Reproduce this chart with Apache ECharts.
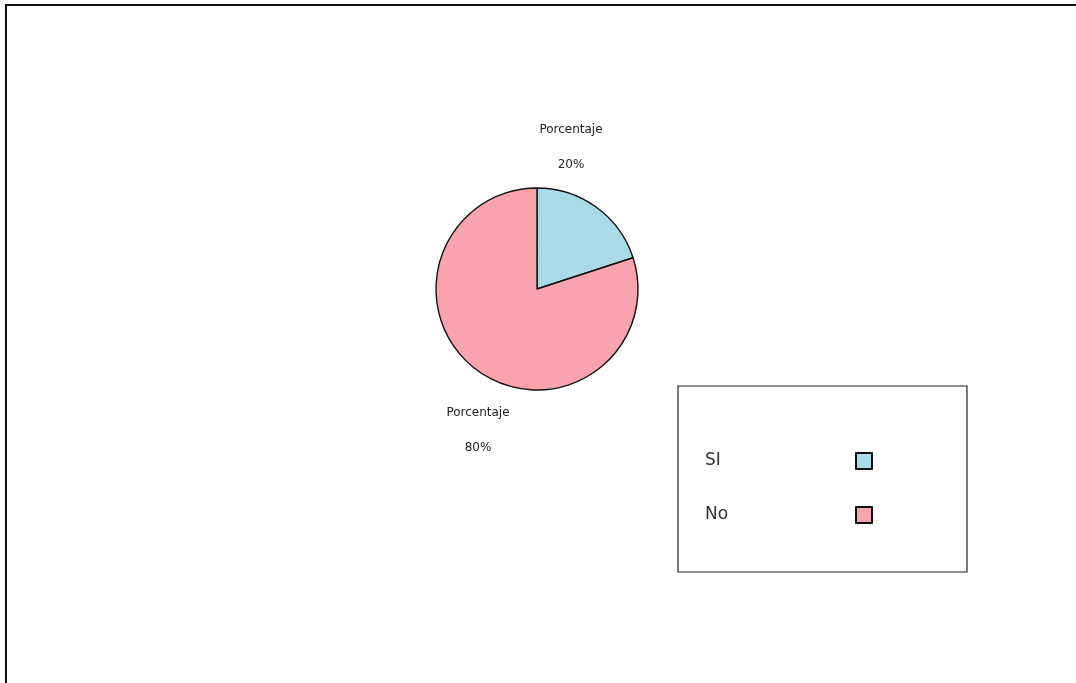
<!DOCTYPE html>
<html>
<head>
<meta charset="utf-8">
<script src="https://cdn.jsdelivr.net/npm/echarts@6/dist/echarts.min.js"></script>
<style>html,body{margin:0;padding:0;background:#fff;}#c{width:1076px;height:683px;}</style>
</head>
<body>
<div id="c"></div>
<script>
const categories = ['SI', 'No'];
const values = [20, 80];
const colors = ['#A8DAE8', '#F9A3AE'];
const labelTitle = 'Porcentaje';

const chart = echarts.init(document.getElementById('c'));
chart.setOption({
  backgroundColor: '#ffffff',
  animation: false,
  graphic: [
    { type: 'line', shape: { x1: 6, y1: 5, x2: 1076, y2: 5 }, style: { stroke: '#111', lineWidth: 2 } },
    { type: 'line', shape: { x1: 6, y1: 4, x2: 6, y2: 683 }, style: { stroke: '#111', lineWidth: 2 } }
  ],
  legend: {
    orient: 'vertical',
    left: 678,
    top: 386,
    align: 'right',
    backgroundColor: '#fff',
    borderColor: '#222',
    borderWidth: 1.2,
    padding: [66, 94, 48, 27],
    itemGap: 36,
    itemWidth: 16,
    itemHeight: 16,
    icon: 'rect',
    data: categories,
    formatter: (name) => '{n|' + name + '}',
    textStyle: {
      fontFamily: 'DejaVu Sans', fontSize: 17, color: '#333',
      rich: { n: { width: 146, align: 'left', fontFamily: 'DejaVu Sans', fontSize: 17, color: '#333' } }
    }
  },
  series: [{
    type: 'pie',
    center: [537, 289],
    radius: 101,
    startAngle: 90,
    clockwise: true,
    data: categories.map((c, i) => ({ name: c, value: values[i], itemStyle: { color: colors[i] } })),
    itemStyle: { borderColor: '#111', borderWidth: 1.4 },
    label: {
      show: true,
      position: 'outside',
      formatter: (p) => labelTitle + '\n' + p.percent.toFixed(0) + '%',
      fontFamily: 'DejaVu Sans',
      fontSize: 12,
      color: '#222',
      lineHeight: 35,
      align: 'center'
    },
    labelLine: { show: false },
    labelLayout: (p) => p.dataIndex === 0
      ? { x: 571, y: 147, align: 'center', verticalAlign: 'middle' }
      : { x: 478, y: 430, align: 'center', verticalAlign: 'middle' },
    emphasis: { disabled: true }
  }]
});
</script>
</body>
</html>
